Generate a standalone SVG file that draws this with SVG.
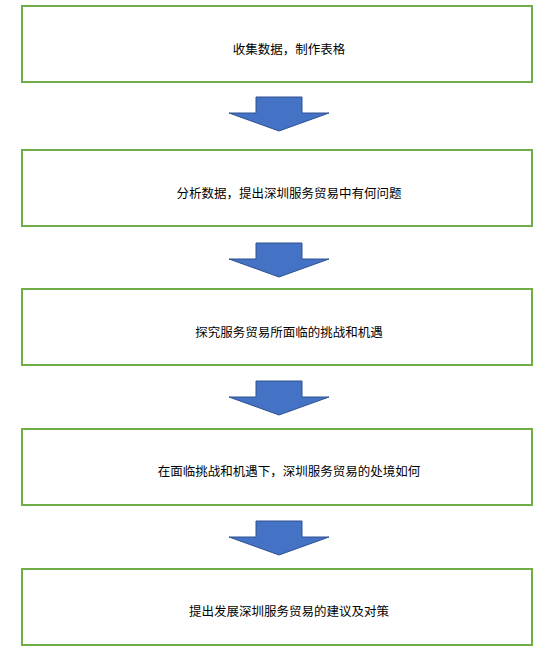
<svg xmlns="http://www.w3.org/2000/svg" width="554" height="649" viewBox="0 0 554 649">
<style>
.box{fill:#fff;stroke:#70AD47;stroke-width:2}
.arr{fill:#4472C4;stroke:#2F528F;stroke-width:1}
text{font-family:"Noto Sans CJK SC","Microsoft YaHei",sans-serif;font-size:12.5px;fill:#000;text-anchor:middle}
</style>
<rect width="554" height="649" fill="#fff"/>
<defs>
<path id="down" class="arr" d="M256,0 H302 V16 H329 L279,34 L229,16 H256 Z"/>
</defs>
<g id="connectors">
<use href="#down" y="97"/>
<use href="#down" y="243"/>
<use href="#down" y="381"/>
<use href="#down" y="521"/>
</g>
<g id="n1"><rect class="box" x="22" y="6" width="510" height="76"/><text x="289" y="54">收集数据，制作表格</text></g>
<g id="n2"><rect class="box" x="22" y="150" width="510" height="76"/><text x="289" y="198">分析数据，提出深圳服务贸易中有何问题</text></g>
<g id="n3"><rect class="box" x="22" y="289" width="510" height="76"/><text x="289" y="337">探究服务贸易所面临的挑战和机遇</text></g>
<g id="n4"><rect class="box" x="22" y="429" width="510" height="76"/><text x="289" y="476">在面临挑战和机遇下，深圳服务贸易的处境如何</text></g>
<g id="n5"><rect class="box" x="22" y="569" width="510" height="76"/><text x="289" y="616">提出发展深圳服务贸易的建议及对策</text></g>
</svg>
